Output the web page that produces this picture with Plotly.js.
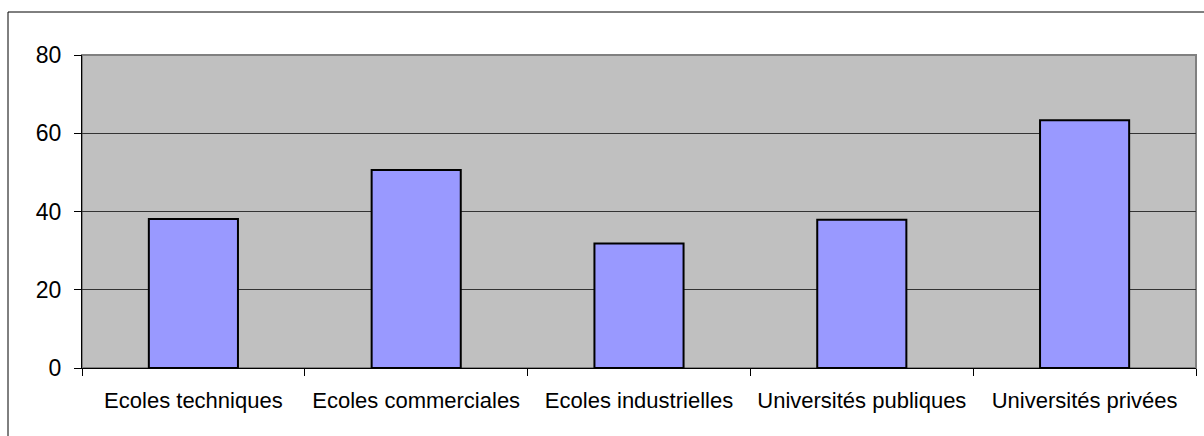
<!DOCTYPE html>
<html>
<head>
<meta charset="utf-8">
<script src="https://cdn.plot.ly/plotly-3.0.1.min.js"></script>
<style>
  html, body { margin: 0; padding: 0; background: #fff; }
  #chart { width: 1204px; height: 436px; }
</style>
</head>
<body>
<div id="chart"></div>
<script>
const categories = ["Ecoles techniques", "Ecoles commerciales", "Ecoles industrielles", "Universités publiques", "Universités privées"];
const values = [38.1, 50.6, 31.8, 37.9, 63.3];
const yTicks = [0, 20, 40, 60, 80];

const W = 1204, H = 436;
const m = { l: 82, r: 8, t: 55, b: 68 };
const pw = W - m.l - m.r, ph = H - m.t - m.b;
// outer chart border (pixel -> paper)
const bx0 = (8 - m.l) / pw, by1 = (H - m.b - 12) / ph;

const trace = {
  type: "bar",
  x: categories,
  y: values,
  width: 0.4,
  marker: { color: "#9999FF", line: { color: "#000000", width: 2 } },
  hoverinfo: "x+y"
};

const layout = {
  width: W, height: H,
  margin: m,
  paper_bgcolor: "#ffffff",
  plot_bgcolor: "#C0C0C0",
  showlegend: false,
  font: { family: "Liberation Sans, Arial, sans-serif", size: 22, color: "#000" },
  xaxis: {
    type: "category",
    range: [-0.5, 4.5],
    tickson: "boundaries",
    tickangle: 0,
    ticks: "outside", ticklen: 7, tickcolor: "#000", tickwidth: 1,
    showline: true, linecolor: "#000", linewidth: 1,
    showgrid: false, zeroline: false,
    tickfont: { size: 22 },
    ticklabelstandoff: 13
  },
  yaxis: {
    range: [0, 80],
    tickvals: yTicks,
    ticktext: yTicks.map(String),
    ticks: "outside", ticklen: 7, tickcolor: "#000", tickwidth: 1,
    showline: true, linecolor: "#000", linewidth: 1,
    showgrid: true, gridcolor: "#333333", gridwidth: 1,
    zeroline: false,
    tickfont: { size: 23 },
    ticklabelstandoff: 8
  },
  shapes: [
    { type: "rect", xref: "paper", yref: "paper", x0: 0, x1: 1, y0: 0, y1: 1,
      line: { color: "#808080", width: 2 }, layer: "below" },
    { type: "line", xref: "paper", yref: "paper", x0: bx0, x1: bx0, y0: by1, y1: -0.5,
      line: { color: "#000", width: 1 } },
    { type: "line", xref: "paper", yref: "paper", x0: bx0, x1: 1.2, y0: by1, y1: by1,
      line: { color: "#000", width: 1 } }
  ]
};

Plotly.newPlot("chart", [trace], layout, { displayModeBar: false, staticPlot: true });
</script>
</body>
</html>
